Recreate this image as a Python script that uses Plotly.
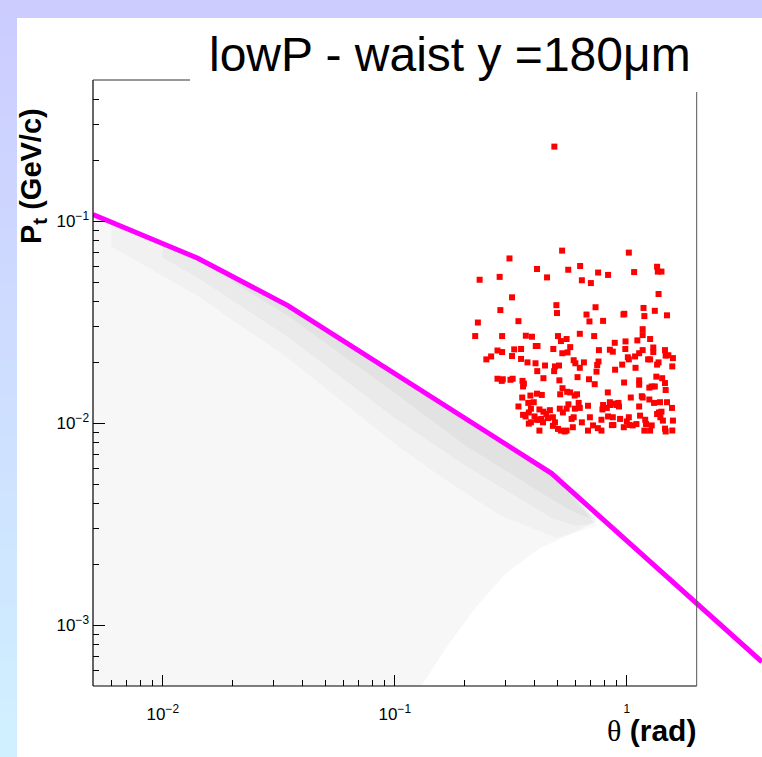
import math
import plotly.graph_objects as go

# ---------------- data ----------------
# magenta boundary line (theta [rad], Pt [GeV/c])
line_theta = [0.005, 0.01415, 0.0346, 0.4735, 3.82]
line_pt = [0.108, 0.0656, 0.0382, 0.00565, 0.000659]

# grey dot cloud, drawn as nested density outlines
cloud_theta = [0.005, 0.01415, 0.0346, 0.4735, 0.743, 0.6, 0.42, 0.3, 0.22, 0.17, 0.13, 0.005]
cloud_pt = [0.108, 0.0656, 0.0382, 0.00565, 0.0033, 0.0029, 0.0024, 0.0018, 0.0012, 0.0008, 0.0005, 0.0005]
band1_theta = [0.006, 0.01415, 0.0346, 0.4735, 0.743, 0.5, 0.284, 0.156, 0.1, 0.0346, 0.01415, 0.006]
band1_pt = [0.1025, 0.0656, 0.0382, 0.00565, 0.0031, 0.0027, 0.0035, 0.0055, 0.0079, 0.021, 0.0426, 0.075]
band2_theta = [0.01, 0.01415, 0.0346, 0.4735, 0.743, 0.6, 0.4735, 0.2, 0.1, 0.0346, 0.01415, 0.01]
band2_pt = [0.0775, 0.0656, 0.0382, 0.00565, 0.0032, 0.0031, 0.0034, 0.0062, 0.0106, 0.0267, 0.0525, 0.066]
band3_theta = [0.02, 0.0346, 0.4735, 0.743, 0.6, 0.4735, 0.2, 0.1, 0.0346, 0.02]
band3_pt = [0.0532, 0.0382, 0.00565, 0.0033, 0.0036, 0.0042, 0.0078, 0.0141, 0.034, 0.05]

# red squares
red_theta = [
    0.487, 0.526, 1.02, 0.312, 0.41, 0.559, 0.629, 0.453, 0.283, 0.232,
    0.752, 0.83, 0.64, 0.70, 1.075, 1.35, 1.36, 1.41, 0.32, 1.37,
    0.497, 0.733, 0.285, 0.50, 0.67, 0.967, 0.975, 1.18, 1.32, 1.19,
    1.49, 0.228, 0.341, 0.69, 0.79, 0.222, 0.29, 0.367, 0.39, 0.505,
    0.55, 0.52, 0.627, 0.723, 1.17, 1.17, 1.26, 1.11, 0.987, 0.887,
    0.405, 0.412, 0.57, 0.277, 0.29, 0.327, 0.35, 0.482, 0.527, 0.555,
    0.758, 0.845, 0.87, 0.985, 1.30, 1.30, 1.17, 1.13, 1.085, 1.01,
    1.02, 1.46, 1.47, 1.51, 1.58, 0.248, 0.26, 0.32, 0.35, 0.373,
    0.404, 0.59, 0.60, 0.653, 0.755, 0.745, 1.235, 1.26, 1.37, 1.35,
    1.57, 0.444, 0.49, 0.51, 0.627, 0.955, 0.89, 1.09, 0.411, 0.486,
    0.74, 0.277, 0.292, 0.289, 0.315, 0.322, 0.355, 0.36, 0.357, 0.437,
    0.512, 0.613, 0.687, 0.727, 0.973, 1.13, 1.13, 1.25, 1.28, 1.32,
    1.34, 1.42, 1.46, 1.47, 0.528, 0.553, 0.57, 0.596, 0.61, 0.516,
    0.41, 0.43, 0.384, 0.828, 0.354, 1.04, 1.16, 1.17, 1.25, 1.31,
    1.39, 1.49, 0.341, 0.376, 0.397, 0.386, 0.378, 0.357, 0.366, 0.42,
    0.40, 0.41, 0.386, 0.378, 0.418, 0.42, 0.437, 0.62, 0.68, 0.56,
    0.55, 0.514, 0.53, 0.466, 0.45, 0.48, 0.457, 0.597, 0.627, 0.59,
    0.578, 0.693, 0.64, 0.435, 0.428, 0.49, 0.48, 0.505, 0.52, 0.54,
    0.55, 0.585, 0.68, 0.715, 0.75, 0.777, 0.79, 0.785, 0.82, 0.85,
    0.845, 0.87, 0.83, 0.777, 0.89, 0.862, 1.565, 0.92, 0.905, 0.925,
    1.13, 1.375, 1.41, 1.35, 1.395, 1.43, 1.58, 1.14, 1.2, 1.21,
    0.935, 1.0, 1.02, 1.025, 0.97, 1.06, 1.1, 0.875, 1.19, 1.26,
    1.28, 1.46, 1.47, 1.57,
]
red_pt = [
    0.234, 0.0715, 0.0699, 0.0654, 0.058, 0.0575, 0.060, 0.0527, 0.053, 0.0513,
    0.0557, 0.0542, 0.051, 0.0494, 0.056, 0.0595, 0.0563, 0.0563, 0.042, 0.0436,
    0.0384, 0.0375, 0.0363, 0.0351, 0.0345, 0.0345, 0.0348, 0.0372, 0.036, 0.0339,
    0.0342, 0.0315, 0.032, 0.0319, 0.0321, 0.027, 0.027, 0.0271, 0.0268, 0.027,
    0.0261, 0.0255, 0.0277, 0.027, 0.0292, 0.0273, 0.0261, 0.0257, 0.0254, 0.025,
    0.0241, 0.0241, 0.0238, 0.0229, 0.0225, 0.0232, 0.0233, 0.0233, 0.0222, 0.0224,
    0.023, 0.0231, 0.0226, 0.0233, 0.0237, 0.0225, 0.023, 0.0222, 0.0214, 0.0212,
    0.0207, 0.023, 0.0216, 0.0217, 0.021, 0.0207, 0.0214, 0.0215, 0.0208, 0.020,
    0.0198, 0.0205, 0.0198, 0.020, 0.0202, 0.0194, 0.0207, 0.0207, 0.020, 0.0195,
    0.0191, 0.0193, 0.0191, 0.0193, 0.0188, 0.0195, 0.0184, 0.0188, 0.0181, 0.0181,
    0.018, 0.0166, 0.0165, 0.0162, 0.0164, 0.0166, 0.0162, 0.0157, 0.0152, 0.0167,
    0.0163, 0.0169, 0.0165, 0.0156, 0.0159, 0.0163, 0.0155, 0.015, 0.0152, 0.0152,
    0.017, 0.0167, 0.0158, 0.0146, 0.0149, 0.0143, 0.0142, 0.0137, 0.0139, 0.0139,
    0.014, 0.0138, 0.0137, 0.0142, 0.0134, 0.0134, 0.0136, 0.0134, 0.0131, 0.0126,
    0.0127, 0.0127, 0.0121, 0.0126, 0.0127, 0.0118, 0.0113, 0.011, 0.0108, 0.0117,
    0.0108, 0.0104, 0.0101, 0.00995, 0.0104, 0.00919, 0.0114, 0.0126, 0.0122, 0.0124,
    0.0118, 0.0118, 0.0113, 0.0116, 0.0111, 0.0107, 0.0106, 0.0118, 0.0119, 0.0107,
    0.0105, 0.0107, 0.0101, 0.0101, 0.0105, 0.0101, 0.0097, 0.00937, 0.00919, 0.0091,
    0.00919, 0.00955, 0.00919, 0.00975, 0.00945, 0.00919, 0.0123, 0.0117, 0.0119, 0.0123,
    0.0127, 0.0107, 0.0108, 0.0104, 0.0125, 0.00978, 0.0119, 0.0126, 0.0123, 0.0121,
    0.0121, 0.0113, 0.0114, 0.0111, 0.0107, 0.0103, 0.0103, 0.0109, 0.0104, 0.0099,
    0.0105, 0.0102, 0.0107, 0.0098, 0.00955, 0.00975, 0.0099, 0.0098, 0.00919, 0.00919,
    0.00975, 0.0094, 0.0091, 0.0092,
]

x_major = [0.01, 0.1, 1]
x_major_text = ["10<sup>\u22122</sup>", "10<sup>\u22121</sup>", "<sup>1</sup>"]
y_major = [0.001, 0.01, 0.1]
y_major_text = ["10<sup>\u22123</sup>", "10<sup>\u22122</sup>", "10<sup>\u22121</sup>"]
x_minor = [0.006, 0.007, 0.008, 0.009] + [k * 0.01 for k in range(2, 10)] + [k * 0.1 for k in range(2, 10)]
y_minor = [k * 0.0001 for k in range(6, 10)] + [k * 0.001 for k in range(2, 10)] + \
          [k * 0.01 for k in range(2, 10)] + [0.2, 0.3, 0.4]

# ---------------- layout geometry ----------------
W, H = 762, 757
L, R, T, B = 93, 0, 80, 71
PW, PH = W - L - R, H - T - B
x_lo = math.log10(0.005)
x_hi = x_lo + PW / 232.0
y_lo, y_hi = math.log10(5e-4), math.log10(0.5)
FONT = "Liberation Sans, Arial, Helvetica, sans-serif"


def px(xp):
    return (xp - L) / PW


def py(yp):
    return (H - B - yp) / PH


fig = go.Figure()

for xs, ys, a in [(cloud_theta, cloud_pt, 0.04), (band1_theta, band1_pt, 0.03),
                  (band2_theta, band2_pt, 0.035), (band3_theta, band3_pt, 0.045)]:
    fig.add_trace(go.Scatter(x=xs, y=ys, mode="lines", fill="toself",
                             fillcolor=f"rgba(60,60,60,{a})", line=dict(width=0),
                             hoverinfo="skip", showlegend=False))
fig.add_trace(go.Scatter(x=line_theta, y=line_pt, mode="lines",
                         line=dict(color="#ff00ff", width=5),
                         hoverinfo="skip", showlegend=False))
fig.add_trace(go.Scatter(x=red_theta, y=red_pt, mode="markers",
                         marker=dict(symbol="square", size=6, color="#ff0000",
                                     line=dict(width=0)),
                         showlegend=False))

shapes = []
# background gradient band (left) and top band
n = 40
for i in range(n):
    t = (i + 0.5) / n
    r = int(round(204 + (208 - 204) * t))
    g = int(round(204 + (240 - 204) * t))
    y0p = i * H / n
    y1p = (i + 1) * H / n + 1
    shapes.append(dict(type="rect", xref="paper", yref="paper",
                       x0=px(0), x1=px(17), y0=py(y1p), y1=py(y0p),
                       fillcolor=f"rgb({r},{g},255)", line=dict(width=0), layer="below"))
shapes.append(dict(type="rect", xref="paper", yref="paper",
                   x0=px(0), x1=px(W), y0=py(18), y1=py(0),
                   fillcolor="rgb(204,204,255)", line=dict(width=0), layer="below"))

# frame
x_right = px(L + (math.log10(2) - x_lo) * 232.0)
shapes += [
    dict(type="line", xref="paper", yref="paper", x0=0, x1=0, y0=0, y1=1,
         line=dict(color="black", width=1.2)),
    dict(type="line", xref="paper", yref="paper", x0=0, x1=x_right, y0=0, y1=0,
         line=dict(color="black", width=1.2)),
    dict(type="line", xref="paper", yref="paper", x0=0, x1=px(190), y0=1, y1=1,
         line=dict(color="#333333", width=1)),
    dict(type="line", xref="paper", yref="paper", x0=x_right, x1=x_right, y0=0, y1=py(92),
         line=dict(color="#555555", width=1)),
]

annotations = [
    dict(text="lowP - waist y =180\u03bcm", xref="paper", yref="paper",
         x=px(450), y=py(55), xanchor="center", yanchor="middle", showarrow=False,
         font=dict(family=FONT, size=48, color="black")),
    dict(text="<span style='font-family:Liberation Serif'>\u03b8</span> <b>(rad)</b>",
         xref="paper", yref="paper", x=px(698), y=py(730), xanchor="right", yanchor="middle",
         showarrow=False, font=dict(family=FONT, size=30, color="black")),
    dict(text="<b>P<sub>t</sub> (GeV/c)</b>", xref="paper", yref="paper",
         x=px(33), y=py(176), xanchor="center", yanchor="middle", textangle=-90,
         showarrow=False, font=dict(family=FONT, size=29, color="black")),
]

fig.update_layout(
    width=W, height=H,
    margin=dict(l=L, r=R, t=T, b=B, pad=0),
    paper_bgcolor="white", plot_bgcolor="white",
    shapes=shapes, annotations=annotations,
    font=dict(family=FONT, color="black"),
    xaxis=dict(type="log", range=[x_lo, x_hi], showgrid=False, zeroline=False,
               showline=False, ticks="inside", ticklen=11, tickwidth=1, tickcolor="black",
               tickmode="array", tickvals=x_major, ticktext=x_major_text,
               tickfont=dict(family=FONT, size=17, color="black"), ticklabelstandoff=16,
               minor=dict(tickmode="array", tickvals=x_minor, ticks="inside", ticklen=6,
                          tickwidth=1, tickcolor="black", showgrid=False)),
    yaxis=dict(type="log", range=[y_lo, y_hi], showgrid=False, zeroline=False,
               showline=False, ticks="inside", ticklen=12, tickwidth=1, tickcolor="black",
               tickmode="array", tickvals=y_major, ticktext=y_major_text,
               tickfont=dict(family=FONT, size=17, color="black"), ticklabelstandoff=3,
               minor=dict(tickmode="array", tickvals=y_minor, ticks="inside", ticklen=6,
                          tickwidth=1, tickcolor="black", showgrid=False)),
)

fig.write_html("out.html", config={"displayModeBar": False},
               post_script="document.body.style.margin='0';document.body.style.overflow='hidden';")
